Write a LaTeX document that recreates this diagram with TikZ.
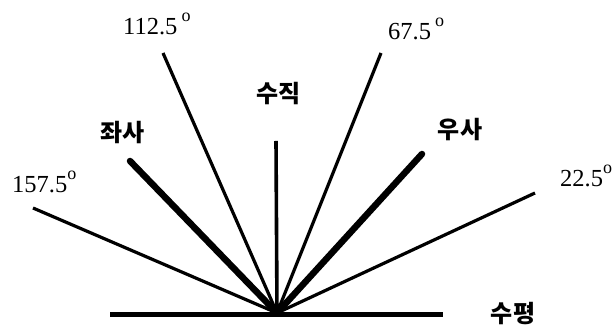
\documentclass[tikz,border=0pt]{standalone}
\usepackage{fontspec}
\setmainfont{Liberation Serif}
\newfontfamily\korfont{Noto Sans CJK KR}
\newcommand\degsign{\raisebox{13pt}{\fontsize{18}{18}\selectfont o}}
\begin{document}
\begin{tikzpicture}[x=1pt,y=1pt,
  ray/.style={line width=3.2pt},
  oblique/.style={line width=6.5pt,line cap=round},
  deg/.style={font=\fontsize{24.5}{24.5}\selectfont,inner sep=0pt,anchor=base west},
  kor/.style={font=\korfont\bfseries\fontsize{24}{24}\selectfont,inner sep=0pt}]
\useasboundingbox (0,0) rectangle (615,328);
% ray ends
\coordinate (orig) at (277,15);
\coordinate (r112) at (163,275);
\coordinate (r67) at (381,275);
\coordinate (rvert) at (276,187);
\coordinate (r157) at (33,120);
\coordinate (r22) at (535,135);
\coordinate (rleft) at (130,167);
\coordinate (rright) at (422,174);
\coordinate (hleft) at (110,13.5);
\coordinate (hright) at (443,13.5);
\draw[line width=4.5pt] (hleft) -- (hright);
\draw[ray] (orig) -- (r157);
\draw[ray] (orig) -- (r112);
\draw[ray] (orig) -- (r67);
\draw[ray] (orig) -- (r22);
\draw[ray,line width=3.6pt] (orig) -- (rvert);
\draw[oblique] (orig) -- (rleft);
\draw[oblique] (orig) -- (rright);
% labels
\node[deg] (l112) at (123,293) {112.5\,\degsign};
\node[deg] (l67) at (388,288) {67.5\,\degsign};
\node[deg] (l157) at (12,135) {157.5\degsign};
\node[deg] (l22) at (560,141) {22.5\degsign};
\node[kor] (lvert) at (278.5,234.5) {수직};
\node[kor] (lleft) at (122.5,195.5) {좌사};
\node[kor] (lright) at (460,198.5) {우사};
\node[kor] (lhoriz) at (513,14.5) {수평};
\end{tikzpicture}
\end{document}
